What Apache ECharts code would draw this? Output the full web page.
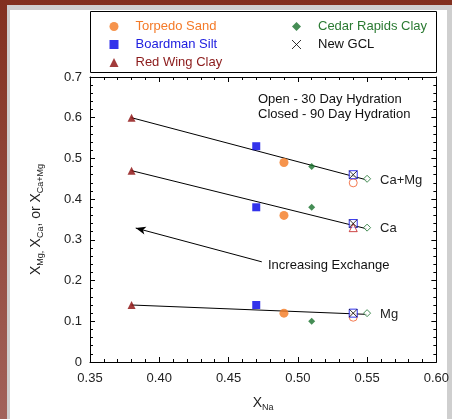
<!DOCTYPE html>
<html><head><meta charset="utf-8">
<script src="https://cdn.jsdelivr.net/npm/echarts@6/dist/echarts.min.js"></script>
<style>
html,body{margin:0;padding:0;width:452px;height:419px;overflow:hidden;background:linear-gradient(#82301f,#a2625a);}
#frame{position:absolute;left:7px;top:5px;width:445px;height:414px;background:#cfcfcf;}
#panel{position:absolute;left:10px;top:10px;width:437px;height:409px;background:#fff;}
#chart{position:absolute;left:0;top:0;width:452px;height:419px;}
</style></head><body>
<div id="frame"></div><div id="panel"></div><div id="chart"></div>
<script>
// ---- data (x = X_Na, y = fraction) ; rows: Ca+Mg, Ca, Mg ----
const torpedo90 = [[0.49,0.49],[0.49,0.36],[0.49,0.12]];
const torpedo30 = [[0.54,0.44],[0.54,0.11]];
const boardman90 = [[0.47,0.53],[0.47,0.38],[0.47,0.14]];
const boardman30 = [[0.54,0.46],[0.54,0.34],[0.54,0.12]];
const redWing90 = [[0.38,0.60],[0.38,0.47],[0.38,0.14]];
const redWing30 = [[0.54,0.33]];
const cedar90 = [[0.51,0.48],[0.51,0.38],[0.51,0.10]];
const cedar30 = [[0.55,0.45],[0.55,0.33],[0.55,0.12]];
const newGcl = [[0.54,0.46],[0.54,0.34],[0.54,0.12]];
const fitNames = ['Ca+Mg','Ca','Mg'];
const fitLines = [
  [[0.38,0.60],[0.55,0.447]],
  [[0.38,0.47],[0.55,0.327]],
  [[0.38,0.14],[0.55,0.117]]
];
const arrowFrom = [0.474,0.246];
const arrowTo = [0.383,0.329];
const xMin = 0.35, xMax = 0.60, xStep = 0.05;
const yMin = 0, yMax = 0.7, yStep = 0.1;

const FONT = 'Liberation Sans, Arial, sans-serif';
const C = {torpedo:'#f47920', boardman:'#0000e6', redWing:'#8b0a0a', cedar:'#16702a', gcl:'#000'};
const XPATH = 'path://M0,0L10,10M10,0L0,10';

const chart = echarts.init(document.getElementById('chart'), null, {renderer:'canvas'});

function axisCommon(extra){
  return Object.assign({
    axisLine:{show:true, onZero:false, lineStyle:{color:'#000', width:1}},
    axisTick:{show:true, inside:true, length:5, lineStyle:{color:'#000'}},
    minorTick:{show:true, splitNumber:5, length:3, lineStyle:{color:'#000'}},
    splitLine:{show:false},
    minorSplitLine:{show:false}
  }, extra);
}

const series = [];
fitLines.forEach((pts, i) => {
  series.push({
    name: 'fit ' + fitNames[i], type:'line', data: pts, symbol:'none',
    lineStyle:{color:'#000', width:1}, silent:true, z:1,
    endLabel:{show:true, formatter: fitNames[i], distance:13, fontSize:13, fontFamily:FONT, color:'#222'},
    markLine: i === 2 ? {
      silent:true, symbol:['none','arrow'], symbolSize:[6,10],
      lineStyle:{color:'#000', width:1, type:'solid'}, label:{show:false},
      data:[[{coord:arrowFrom},{coord:arrowTo}]]
    } : undefined
  });
});
function sc(name, data, symbol, size, style, z){
  series.push({name, type:'scatter', data, symbol, symbolSize:size, itemStyle:style, z:z||3});
}
sc('Torpedo Sand', torpedo90, 'circle', 9, {color:C.torpedo});
sc('Torpedo Sand 30', torpedo30, 'circle', 8, {color:'#fff', borderColor:'#f05a28', borderWidth:1});
sc('Boardman Silt', boardman90, 'rect', 8, {color:C.boardman});
sc('Boardman Silt 30', boardman30, 'rect', 8, {color:'#fff', borderColor:C.boardman, borderWidth:1});
sc('Red Wing Clay', redWing90, 'triangle', 8, {color:C.redWing});
sc('Red Wing Clay 30', redWing30, 'triangle', 8, {color:'#fff', borderColor:'#c01818', borderWidth:1});
sc('Cedar Rapids Clay', cedar90, 'diamond', 7, {color:C.cedar});
sc('Cedar Rapids Clay 30', cedar30, 'diamond', 7, {color:'#fff', borderColor:C.cedar, borderWidth:1});
sc('New GCL', newGcl, XPATH, 8, {color:'transparent', borderColor:'#000', borderWidth:1}, 5);

const legendCommon = {
  orient:'vertical', padding:0, itemWidth:9, itemHeight:9, itemGap:5,
  textStyle:{fontSize:13, fontFamily:FONT, padding:[0,0,0,12]}, selectedMode:false, top:20
};

chart.setOption({
  animation:false,
  backgroundColor:'transparent',
  textStyle:{fontFamily:FONT},
  grid:{left:90, top:77, right:15, bottom:57},
  legend:[
    Object.assign({}, legendCommon, {left:109.5, data:[
      {name:'Torpedo Sand', textStyle:{color:'#f47a28'}},
      {name:'Boardman Silt', textStyle:{color:'#2020e0'}},
      {name:'Red Wing Clay', textStyle:{color:'#8b1a1a'}}
    ]}),
    Object.assign({}, legendCommon, {left:291.5, data:[
      {name:'Cedar Rapids Clay', textStyle:{color:'#2a7a32'}},
      {name:'New GCL', textStyle:{color:'#111'}, icon:XPATH, itemStyle:{color:'transparent', borderColor:'#000', borderWidth:1}}
    ]})
  ],
  xAxis:[
    axisCommon({type:'value', position:'bottom', min:xMin, max:xMax, interval:xStep,
      axisLabel:{fontSize:13, color:'#222', margin:10, formatter:v=>v.toFixed(2)},
      name:'{x|X}{s|Na}', nameLocation:'middle', nameGap:32,
      nameTextStyle:{rich:{x:{fontSize:14, lineHeight:18, color:'#222', fontFamily:FONT}, s:{fontSize:9, lineHeight:8, verticalAlign:'bottom', color:'#222', fontFamily:FONT}}}
    }),
    axisCommon({type:'value', position:'top', min:xMin, max:xMax, interval:xStep, axisLabel:{show:false}})
  ],
  yAxis:[
    axisCommon({type:'value', position:'left', min:yMin, max:yMax, interval:yStep,
      axisLabel:{fontSize:13, color:'#222', margin:8, formatter:v=>v===0?'0':v.toFixed(1)},
      name:'{x|X}{s|Mg,} {x|X}{s|Ca}{x|, or X}{s|Ca+Mg}', nameLocation:'middle', nameGap:45,
      nameTextStyle:{rich:{x:{fontSize:14, lineHeight:18, color:'#222', fontFamily:FONT}, s:{fontSize:9, lineHeight:8, verticalAlign:'bottom', color:'#222', fontFamily:FONT}}}
    }),
    axisCommon({type:'value', position:'right', min:yMin, max:yMax, interval:yStep, axisLabel:{show:false}})
  ],
  graphic:[
    {type:'rect', shape:{x:90.5, y:11.5, width:346, height:61}, style:{fill:'none', stroke:'#000', lineWidth:1}, silent:true, z:-1},
    {type:'text', left:258, top:92, style:{text:'Open - 30 Day Hydration\nClosed - 90 Day Hydration', font:'13px ' + FONT, lineHeight:15, fill:'#111'}},
    {type:'text', left:268, top:259, style:{text:'Increasing Exchange', font:'13px ' + FONT, fill:'#111'}}
  ],
  series
});
</script></body></html>
